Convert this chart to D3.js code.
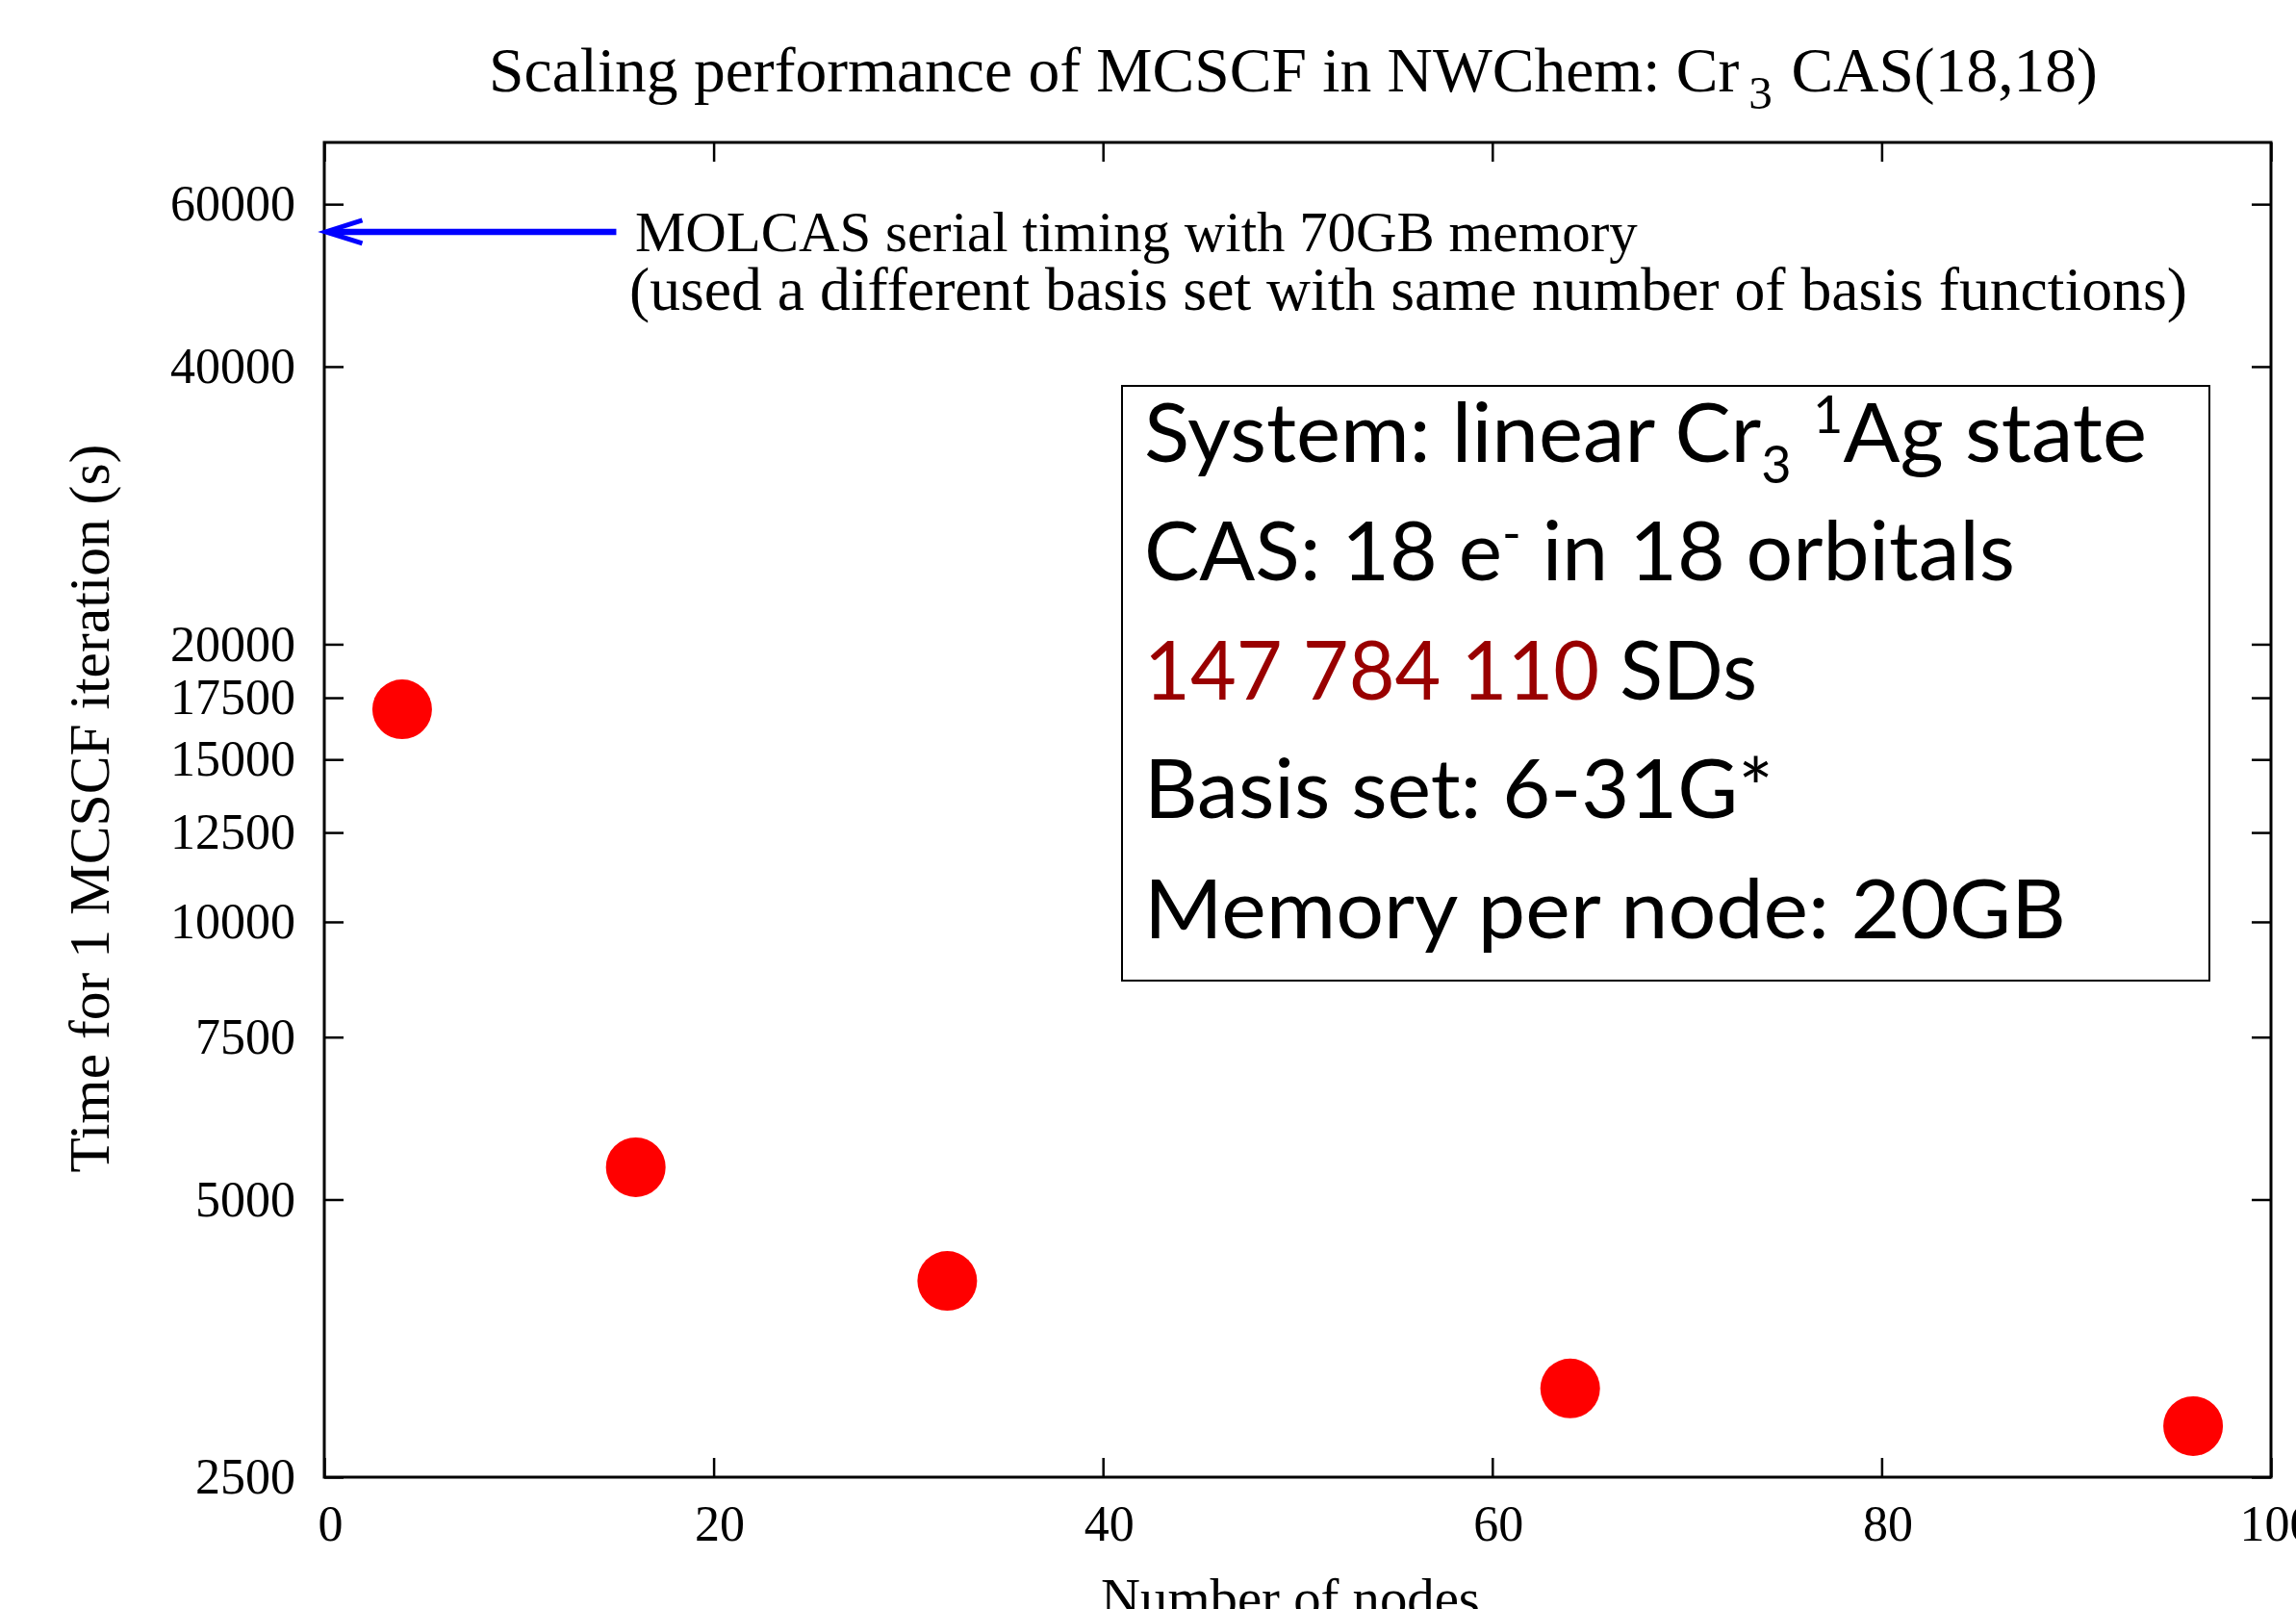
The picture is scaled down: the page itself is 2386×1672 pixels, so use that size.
<!DOCTYPE html>
<html><head><meta charset="utf-8">
<script src="https://cdn.jsdelivr.net/npm/d3@7"></script>
<style>body{margin:0;background:#fff}</style>
</head><body>
<svg id="c" width="2386" height="1672" xmlns="http://www.w3.org/2000/svg"></svg>
<script>
// ---------- data ----------
const nodes = [4, 16, 32, 64, 96];
const times = [17000, 5420, 4080, 3120, 2840];
const xTicks = [0, 20, 40, 60, 80, 100];
const yTicks = [2500, 5000, 7500, 10000, 12500, 15000, 17500, 20000, 40000, 60000];
const xDomain = [0, 100];
const yDomain = [2500, 70000];
const molcasTime = [56000];          // MOLCAS serial timing marker (arrow)
const molcasArrowX = [15, 0];        // arrow from x=15 to the y-axis
const titleParts = ["Scaling performance of MCSCF in NWChem: Cr", "3", " CAS(18,18)"];
const annotLines = ["MOLCAS serial timing with 70GB memory",
                    "(used a different basis set with same number of basis functions)"];
const xLabel = "Number of nodes";
const yLabel = "Time for 1 MCSCF iteration (s)";

// ---------- layout ----------
const L = 337, R = 2360, T = 148, B = 1535;
const serif = "'Liberation Serif','Times New Roman',serif";
const sans = "Lato,'Open Sans',sans-serif";
const svg = d3.select("#c");
svg.append("rect").attr("width", 2386).attr("height", 1672).attr("fill", "#fff");

const x = d3.scaleLinear().domain(xDomain).range([L, R]);
const y = d3.scaleLog().domain(yDomain).range([B, T]);

function fitWidth(sel, target) {
  const w = sel.node().getBBox().width;
  const fs = parseFloat(sel.attr("font-size"));
  sel.attr("font-size", fs * target / w);
}

// axes
const axL = svg.append("g").attr("transform", `translate(${L},0)`)
  .call(d3.axisLeft(y).tickValues(yTicks).tickSize(-20).tickPadding(30).tickFormat(d3.format("d")));
const axR = svg.append("g").attr("transform", `translate(${R},0)`)
  .call(d3.axisRight(y).tickValues(yTicks).tickSize(-20).tickFormat(""));
const axB = svg.append("g").attr("transform", `translate(0,${B})`)
  .call(d3.axisBottom(x).tickValues(xTicks).tickSize(-20).tickPadding(29).tickFormat(d3.format("d")));
const axT = svg.append("g").attr("transform", `translate(0,${T})`)
  .call(d3.axisTop(x).tickValues(xTicks).tickSize(-20).tickFormat(""));
[axL, axR, axB, axT].forEach(a => {
  a.select(".domain").remove();
  a.selectAll(".tick line").attr("stroke", "#000").attr("stroke-width", 2.5);
  a.selectAll(".tick text").attr("font-family", serif).attr("font-size", 52).attr("fill", "#000");
});
axB.selectAll(".tick text").attr("dx", 6);

// frame
svg.append("rect").attr("x", L).attr("y", T).attr("width", R - L).attr("height", B - T)
  .attr("fill", "none").attr("stroke", "#000").attr("stroke-width", 3);

// title
const title = svg.append("text").attr("x", 1344).attr("y", 95).attr("text-anchor", "middle")
  .attr("font-family", serif).attr("font-size", 64).attr("fill", "#000");
title.append("tspan").text(titleParts[0]);
title.append("tspan").style("font-size", "75%").attr("dx", "0.2em").attr("dy", "0.36em").text(titleParts[1]);
title.append("tspan").attr("dx", "0.05em").attr("dy", "-0.27em").text(titleParts[2]);
fitWidth(title, 1672);

// axis labels
const xl = svg.append("text").attr("x", 1341).attr("y", 1680).attr("text-anchor", "middle")
  .attr("font-family", serif).attr("font-size", 58).attr("fill", "#000").text(xLabel);
fitWidth(xl, 394);
const yl = svg.append("text").attr("transform", "translate(113,840) rotate(-90)").attr("text-anchor", "middle")
  .attr("font-family", serif).attr("font-size", 60).attr("fill", "#000").text(yLabel);
fitWidth(yl, 757);

// MOLCAS arrow
const ay = y(molcasTime[0]);
const ax0 = x(molcasArrowX[0]), ax1 = x(molcasArrowX[1]) + 1.5;
svg.append("line").attr("x1", ax0).attr("x2", ax1 + 4).attr("y1", ay).attr("y2", ay)
  .attr("stroke", "#0000ff").attr("stroke-width", 6.5);
svg.append("path").attr("d", `M${ax1 + 38},${ay - 12}L${ax1},${ay}L${ax1 + 38},${ay + 12}`)
  .attr("fill", "none").attr("stroke", "#0000ff").attr("stroke-width", 5);

const an1 = svg.append("text").attr("x", 660).attr("y", 261).attr("font-family", serif)
  .attr("font-size", 56).attr("fill", "#000").text(annotLines[0]);
fitWidth(an1, 1042);
const an2 = svg.append("text").attr("x", 654).attr("y", 322).attr("font-family", serif)
  .attr("font-size", 56).attr("fill", "#000").text(annotLines[1]);
fitWidth(an2, 1619);

// data points
svg.append("g").selectAll("circle").data(nodes).join("circle")
  .attr("cx", (d) => x(d)).attr("cy", (d, i) => y(times[i])).attr("r", 31).attr("fill", "#ff0000");

// info box
svg.append("rect").attr("x", 1166).attr("y", 401).attr("width", 1130).attr("height", 618)
  .attr("fill", "#fff").attr("stroke", "#000").attr("stroke-width", 2);

const boxLines = [
  {y: 480, w: 1042},
  {y: 603, w: 905},
  {y: 727, w: 637},
  {y: 850, w: 654},
  {y: 975, w: 958}
];
function boxLine(i, build) {
  const g = svg.append("g").attr("transform", `translate(1189,${boxLines[i].y})`);
  const t = g.append("text").attr("x", 0).attr("y", 0).attr("font-family", sans)
    .attr("font-size", 86).attr("fill", "#000");
  build(t);
  const w = t.node().getBBox().width;
  t.attr("transform", `scale(${boxLines[i].w / w},1)`);
}
boxLine(0, t => {
  t.append("tspan").text("System: linear Cr");
  t.append("tspan").style("font-size", "62%").attr("dy", "0.42em").text("3");
  t.append("tspan").text(" ");
  t.append("tspan").style("font-size", "62%").attr("dy", "-0.98em").text("1");
  t.append("tspan").attr("dy", "0.35em").text("Ag state");
});
boxLine(1, t => {
  t.append("tspan").text("CAS: 18 e");
  t.append("tspan").style("font-size", "62%").attr("dy", "-0.57em").text("-");
  t.append("tspan").attr("dy", "0.35em").text(" in 18 orbitals");
});
boxLine(2, t => {
  t.append("tspan").attr("fill", "#990000").text("147 784 110");
  t.append("tspan").text(" SDs");
});
boxLine(3, t => { t.append("tspan").text("Basis set: 6-31G*"); });
boxLine(4, t => { t.append("tspan").text("Memory per node: 20GB"); });
</script>
</body></html>
